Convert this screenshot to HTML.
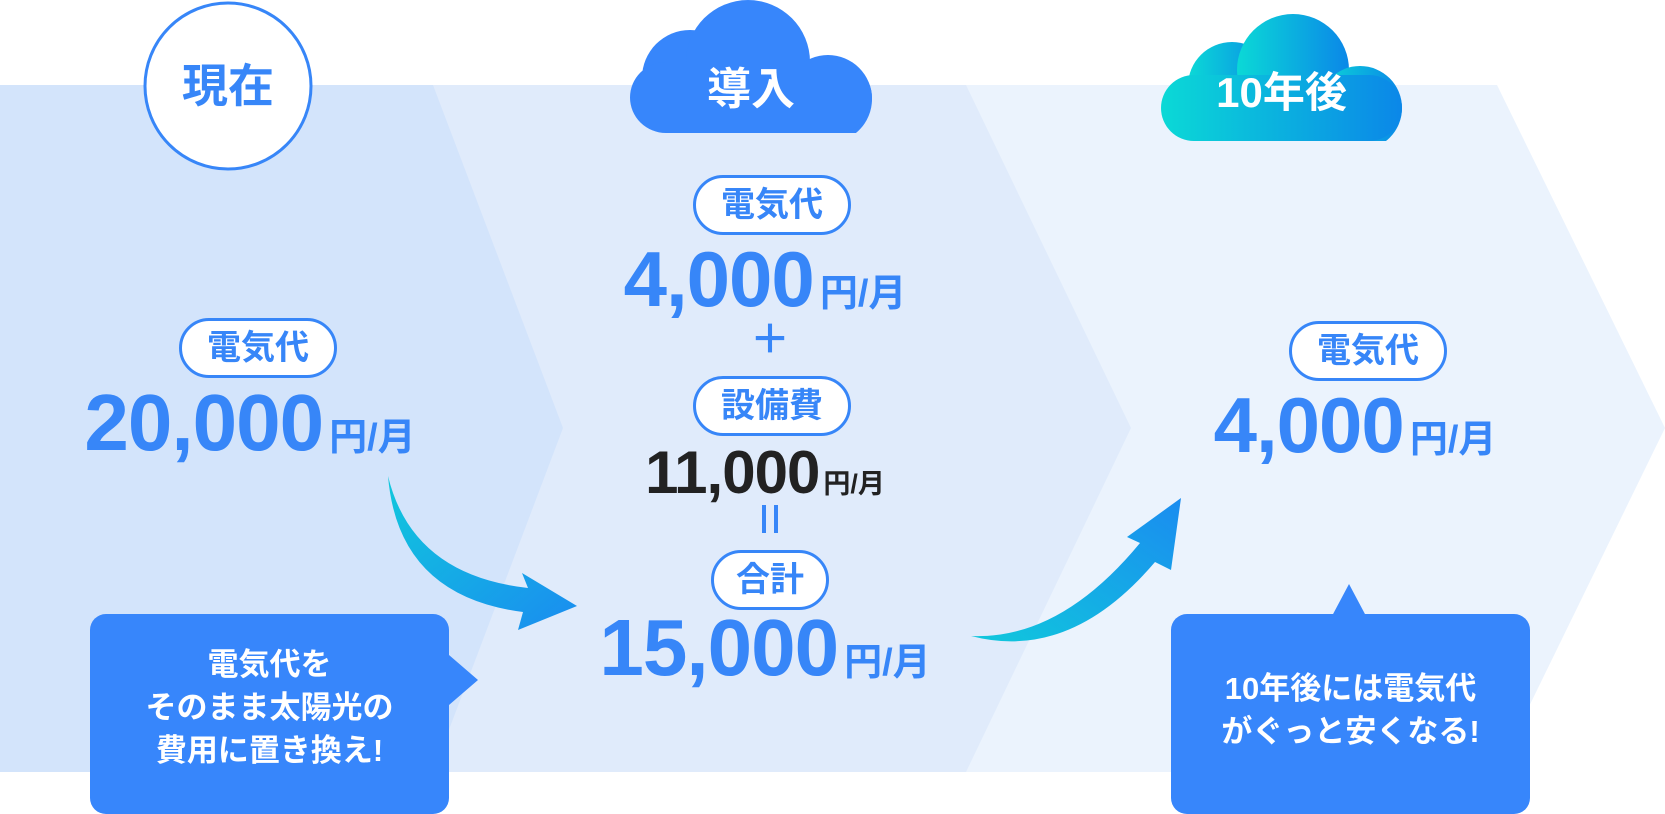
<!DOCTYPE html>
<html><head><meta charset="utf-8"><style>
html,body{margin:0;padding:0}
body{width:1665px;height:802px;position:relative;overflow:hidden;background:#fff;font-family:"Liberation Sans","Noto Sans CJK JP",sans-serif;font-weight:bold}
.a{position:absolute}
.pill{position:absolute;height:54px;border:3px solid #3786f8;border-radius:30px;background:#fff;color:#3786f8;font-size:34px;line-height:54px;text-align:center;box-sizing:content-box}
.num{position:absolute;color:#3786f8;white-space:nowrap;text-align:center;line-height:1;letter-spacing:-1px}
.num .u{font-size:38px;letter-spacing:0;margin-left:6px}
.bub{position:absolute;background:#3786fb;border-radius:16px;color:#fff;font-size:31px;text-align:center;line-height:43px}
</style></head><body>
<svg class="a" style="left:0;top:0" width="1665" height="802">
<defs>
<linearGradient id="cg" x1="0" x2="1" y1="0" y2="0"><stop offset="0" stop-color="#0bd9d6"/><stop offset="1" stop-color="#0b87e8"/></linearGradient>
<linearGradient id="ag" x1="0" x2="1" y1="0" y2="1"><stop offset="0" stop-color="#10c8dc"/><stop offset="1" stop-color="#1a8cf0"/></linearGradient>
<linearGradient id="ag2" x1="0" x2="1" y1="1" y2="0"><stop offset="0" stop-color="#10c8dc"/><stop offset="1" stop-color="#1a8cf0"/></linearGradient>
<clipPath id="c1"><rect x="0" y="0" width="1665" height="133"/></clipPath>
<clipPath id="c2"><rect x="0" y="0" width="1665" height="141"/></clipPath>
</defs>
<polygon points="966,85 1497,85 1665,428 1497,772 966,772" fill="#ebf3fd"/>
<polygon points="433,85 966,85 1131,428 966,772 433,772" fill="#e0ebfb"/>
<polygon points="0,85 433,85 563,428 433,772 0,772" fill="#d3e4fb"/>
<!-- cloud 導入 -->
<g fill="#3786fb" clip-path="url(#c1)">
<circle cx="690" cy="78" r="48"/><circle cx="748" cy="62" r="62"/><circle cx="828" cy="99" r="44"/>
<rect x="630" y="62" width="242" height="71" rx="36"/>
</g>
<!-- cloud 10年後 -->
<g fill="url(#cg)" clip-path="url(#c2)">
<circle cx="1232" cy="86" r="44"/><circle cx="1293" cy="70" r="56"/><circle cx="1360" cy="108" r="42"/>
<rect x="1161" y="75" width="241" height="66" rx="33"/>
</g>
<!-- circle 現在 -->
<circle cx="228" cy="86" r="83" fill="#fff" stroke="#3786f8" stroke-width="3"/>
<!-- arrows -->
<path d="M388,476 Q412,575 528,588 L522,573 L577,606 L518,630 L523,612 Q398,596 388,476 Z" fill="url(#ag)"/>
<path d="M971,636 Q1060,640 1140,543 L1127,537 L1181,498 L1171,570 L1155,562 Q1070,662 971,636 Z" fill="url(#ag2)"/>
<!-- bubble tails -->
<polygon points="449,655 478,680 449,705" fill="#3786fb"/>
<polygon points="1332,616 1349,584 1366,616" fill="#3786fb"/>
</svg>
<div class="a" style="left:148px;top:58px;width:160px;text-align:center;font-size:46px;color:#3786f8;line-height:56px">現在</div>
<div class="a" style="left:630px;top:63px;width:242px;text-align:center;font-size:44px;color:#fff;line-height:54px">導入</div>
<div class="a" style="left:1161px;top:66px;width:241px;text-align:center;font-size:42px;color:#fff;line-height:54px">10年後</div>

<div class="pill" style="left:179px;top:318px;width:152px">電気代</div>
<div class="num" style="left:30px;top:383px;width:440px;font-size:80px">20,000<span class="u">円/月</span></div>

<div class="pill" style="left:693px;top:175px;width:152px">電気代</div>
<div class="num" style="left:555px;top:240px;width:420px;font-size:78px">4,000<span class="u">円/月</span></div>
<div class="a" style="left:740px;top:318px;width:60px;text-align:center;font-size:40px;color:#3786f8;line-height:44px">＋</div>
<div class="pill" style="left:693px;top:376px;width:152px">設備費</div>
<div class="num" style="left:555px;top:443px;width:420px;font-size:60px;color:#222">11,000<span class="u" style="font-size:27px;margin-left:4px">円/月</span></div>
<div class="a" style="left:762px;top:505px;width:4px;height:28px;background:#3786f8"></div>
<div class="a" style="left:774px;top:505px;width:4px;height:28px;background:#3786f8"></div>
<div class="pill" style="left:711px;top:550px;width:112px">合計</div>
<div class="num" style="left:535px;top:608px;width:460px;font-size:80px">15,000<span class="u">円/月</span></div>

<div class="pill" style="left:1289px;top:321px;width:152px">電気代</div>
<div class="num" style="left:1145px;top:386px;width:420px;font-size:78px">4,000<span class="u">円/月</span></div>

<div class="bub" style="left:90px;top:614px;width:359px;height:200px;padding-top:29px;box-sizing:border-box">電気代を<br>そのまま太陽光の<br>費用に置き換え!</div>
<div class="bub" style="left:1171px;top:614px;width:359px;height:200px;padding-top:53px;box-sizing:border-box">10年後には電気代<br>がぐっと安くなる!</div>
</body></html>
